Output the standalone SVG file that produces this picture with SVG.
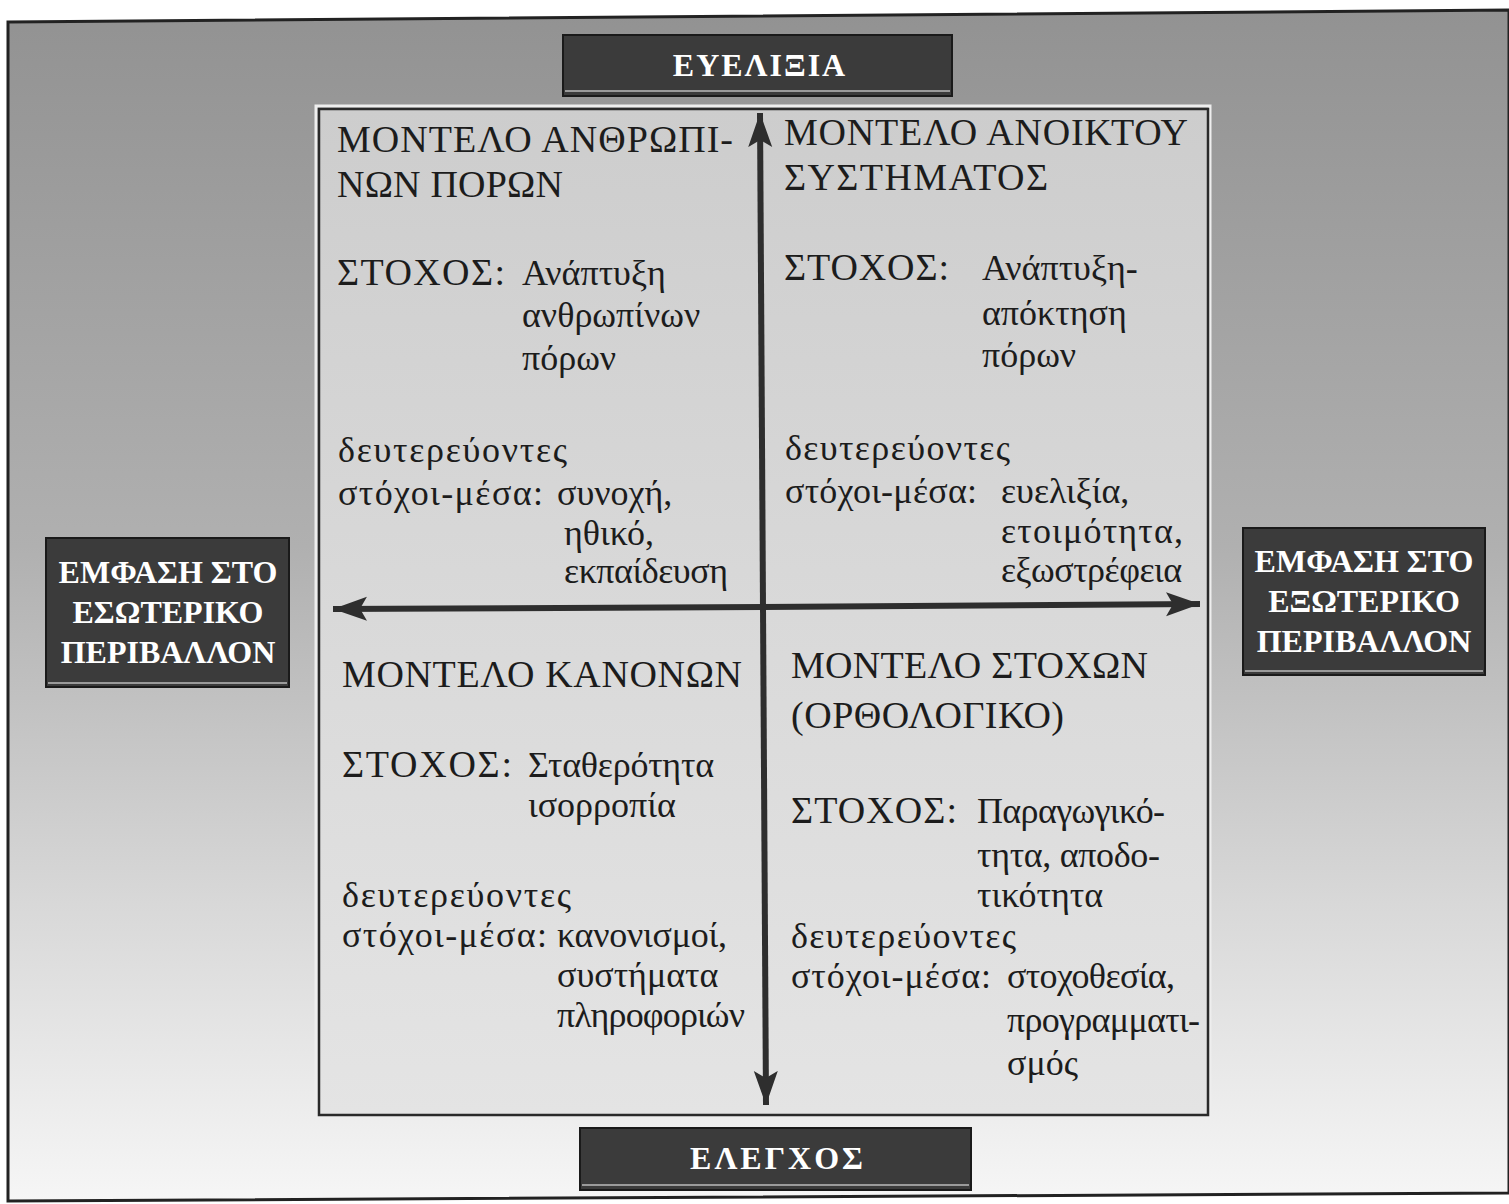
<svg xmlns="http://www.w3.org/2000/svg" width="1509" height="1204" viewBox="0 0 1509 1204">
  <defs>
    <linearGradient id="outerBg" x1="0" y1="0" x2="0" y2="1">
      <stop offset="0" stop-color="#929292"/>
      <stop offset="0.45" stop-color="#b0b0b0"/>
      <stop offset="0.75" stop-color="#d8d8d8"/>
      <stop offset="1" stop-color="#f6f6f6"/>
    </linearGradient>
    <linearGradient id="innerBg" x1="0" y1="0" x2="0" y2="1">
      <stop offset="0" stop-color="#cdcdcd"/>
      <stop offset="0.5" stop-color="#d9d9d9"/>
      <stop offset="1" stop-color="#e4e4e4"/>
    </linearGradient>
    <marker id="arrowHead" markerUnits="userSpaceOnUse" markerWidth="40" markerHeight="30" refX="34" refY="15" orient="auto">
      <path d="M0,3 L34,15 L0,27 L7,15 Z" fill="#2e2e2e"/>
    </marker>
    <style>
      .q { font-family: "Liberation Serif", "DejaVu Serif", serif; font-size: 36px; fill: #1c1c1c; }
      .c { font-size: 38px; }
      .lbl { font-family: "Liberation Serif", "DejaVu Serif", serif; font-size: 32px; font-weight: bold; fill: #ffffff; text-anchor: middle; }
      .dark { fill: #3b3b3b; stroke: #1a1a1a; stroke-width: 2; }
      .bevel { stroke: #9a9a9a; stroke-width: 2; fill: none; }
      .axis { stroke: #2e2e2e; stroke-width: 6; fill: none; marker-end: url(#arrowHead); }
    </style>
  </defs>

  <rect x="0" y="0" width="1509" height="1204" fill="#ffffff"/>

  <g id="frame">
    <polygon points="8,22 1509,10 1509,1193 8,1201" fill="url(#outerBg)" stroke="#222222" stroke-width="3"/>
    <rect x="316" y="106" width="894" height="1012" fill="none" stroke="#eeeeee" stroke-width="3"/>
    <rect x="319" y="109" width="889" height="1006" fill="url(#innerBg)" stroke="#2a2a2a" stroke-width="2.5"/>
  </g>

  <g id="connectors">
    <line class="axis" x1="763" y1="607" x2="760" y2="113"/>
    <line class="axis" x1="763" y1="607" x2="766" y2="1105"/>
    <line class="axis" x1="763" y1="607" x2="333" y2="609"/>
    <line class="axis" x1="763" y1="607" x2="1200" y2="604"/>
  </g>

  <g id="node-flexibility">
    <rect class="dark" x="563" y="35" width="389" height="61"/>
    <line class="bevel" x1="565" y1="91" x2="950" y2="91"/>
    <text class="lbl" x="760" y="76" font-size="34" letter-spacing="2">ΕΥΕΛΙΞΙΑ</text>
  </g>

  <g id="node-control">
    <rect class="dark" x="580" y="1128" width="391" height="62"/>
    <line class="bevel" x1="582" y1="1185" x2="969" y2="1185"/>
    <text class="lbl" x="778" y="1169" font-size="34" letter-spacing="3">ΕΛΕΓΧΟΣ</text>
  </g>

  <g id="node-internal">
    <rect class="dark" x="46" y="538" width="243" height="149"/>
    <line class="bevel" x1="48" y1="683" x2="287" y2="683"/>
    <text class="lbl" x="168" y="583">ΕΜΦΑΣΗ ΣΤΟ</text>
    <text class="lbl" x="168" y="623">ΕΣΩΤΕΡΙΚΟ</text>
    <text class="lbl" x="168" y="663">ΠΕΡΙΒΑΛΛΟΝ</text>
  </g>

  <g id="node-external">
    <rect class="dark" x="1243" y="528" width="242" height="147"/>
    <line class="bevel" x1="1245" y1="671" x2="1483" y2="671"/>
    <text class="lbl" x="1364" y="572">ΕΜΦΑΣΗ ΣΤΟ</text>
    <text class="lbl" x="1364" y="612">ΕΞΩΤΕΡΙΚΟ</text>
    <text class="lbl" x="1364" y="652">ΠΕΡΙΒΑΛΛΟΝ</text>
  </g>

  <g id="node-human-relations">
    <text class="q c" x="337" y="152" textLength="396">ΜΟΝΤΕΛΟ ΑΝΘΡΩΠΙ-</text>
    <text class="q c" x="337" y="197" textLength="226">ΝΩΝ ΠΟΡΩΝ</text>
    <text class="q c" x="337" y="285" textLength="168">ΣΤΟΧΟΣ:</text>
    <text class="q" x="522" y="285">Ανάπτυξη</text>
    <text class="q" x="522" y="327">ανθρωπίνων</text>
    <text class="q" x="522" y="370">πόρων</text>
    <text class="q" x="338" y="462" textLength="229">δευτερεύοντες</text>
    <text class="q" x="338" y="505" textLength="205">στόχοι-μέσα:</text>
    <text class="q" x="557" y="505">συνοχή,</text>
    <text class="q" x="564" y="545">ηθικό,</text>
    <text class="q" x="564" y="583" textLength="164">εκπαίδευση</text>
  </g>

  <g id="node-open-system">
    <text class="q c" x="784" y="145" textLength="404">ΜΟΝΤΕΛΟ ΑΝΟΙΚΤΟΥ</text>
    <text class="q c" x="784" y="190" textLength="264">ΣΥΣΤΗΜΑΤΟΣ</text>
    <text class="q c" x="784" y="280" textLength="165">ΣΤΟΧΟΣ:</text>
    <text class="q" x="982" y="280">Ανάπτυξη-</text>
    <text class="q" x="982" y="325">απόκτηση</text>
    <text class="q" x="982" y="367">πόρων</text>
    <text class="q" x="785" y="460" textLength="225">δευτερεύοντες</text>
    <text class="q" x="785" y="503" textLength="192">στόχοι-μέσα:</text>
    <text class="q" x="1001" y="503">ευελιξία,</text>
    <text class="q" x="1001" y="543" textLength="182">ετοιμότητα,</text>
    <text class="q" x="1001" y="582" textLength="181">εξωστρέφεια</text>
  </g>

  <g id="node-internal-process">
    <text class="q c" x="342" y="687" textLength="400">ΜΟΝΤΕΛΟ ΚΑΝΟΝΩΝ</text>
    <text class="q c" x="342" y="777" textLength="170">ΣΤΟΧΟΣ:</text>
    <text class="q" x="528" y="777" textLength="186">Σταθερότητα</text>
    <text class="q" x="528" y="817">ισορροπία</text>
    <text class="q" x="342" y="907" textLength="229">δευτερεύοντες</text>
    <text class="q" x="342" y="947" textLength="205">στόχοι-μέσα:</text>
    <text class="q" x="557" y="947" textLength="170">κανονισμοί,</text>
    <text class="q" x="557" y="987">συστήματα</text>
    <text class="q" x="557" y="1027" textLength="188">πληροφοριών</text>
  </g>

  <g id="node-rational-goal">
    <text class="q c" x="791" y="678" textLength="357">ΜΟΝΤΕΛΟ ΣΤΟΧΩΝ</text>
    <text class="q c" x="791" y="728" textLength="273">(ΟΡΘΟΛΟΓΙΚΟ)</text>
    <text class="q c" x="791" y="823" textLength="166">ΣΤΟΧΟΣ:</text>
    <text class="q" x="977" y="823" textLength="188">Παραγωγικό-</text>
    <text class="q" x="977" y="867" textLength="183">τητα, αποδο-</text>
    <text class="q" x="977" y="907">τικότητα</text>
    <text class="q" x="791" y="948" textLength="225">δευτερεύοντες</text>
    <text class="q" x="791" y="988" textLength="200">στόχοι-μέσα:</text>
    <text class="q" x="1007" y="988" textLength="168">στοχοθεσία,</text>
    <text class="q" x="1007" y="1032" textLength="193">προγραμματι-</text>
    <text class="q" x="1007" y="1075">σμός</text>
  </g>
</svg>
